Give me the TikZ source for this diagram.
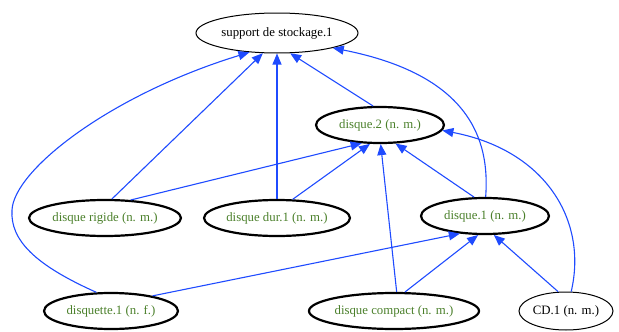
\documentclass[tikz,border=0pt]{standalone}
\usepackage{fontspec}
\setmainfont{Liberation Serif}
\usetikzlibrary{shapes.geometric,arrows.meta}
\definecolor{termgreen}{HTML}{4A7F2A}
\definecolor{linkblue}{HTML}{1F4BFF}
\tikzset{
  concept/.style={ellipse, draw, line width=1pt, inner sep=0pt, font=\fontsize{12.8}{14}\selectfont},
  term/.style={concept, line width=2.2pt, text=termgreen},
  link/.style={draw=linkblue, line width=1.1pt, -{Triangle[length=11pt,width=9pt]}, fill=none},
}
\begin{document}
\begin{tikzpicture}[x=1pt, y=-1pt]
  \useasboundingbox (0,0) rectangle (619,332);

  \node[concept, minimum width=162pt, minimum height=40pt] (support) at (277,33) {support de stockage.1};
  \node[term, minimum width=128pt, minimum height=36pt] (d2) at (380,125) {disque.2 (n. m.)};
  \node[term, minimum width=152pt, minimum height=36pt] (rigide) at (105,218) {disque rigide (n. m.)};
  \node[term, minimum width=146pt, minimum height=36pt] (dur) at (277,218) {disque dur.1 (n. m.)};
  \node[term, minimum width=128pt, minimum height=36pt] (d1) at (485,216) {disque.1 (n. m.)};
  \node[term, minimum width=134pt, minimum height=36pt] (disquette) at (111,311) {disquette.1 (n. f.)};
  \node[term, minimum width=170pt, minimum height=36pt] (compact) at (394,311) {disque compact (n. m.)};
  \node[concept, minimum width=94pt, minimum height=38pt] (cd) at (566,311) {CD.1 (n. m.)};

  % links to support de stockage.1
  \draw[link] (rigide.70) -- (support.235);
  \draw[link] (dur) -- (support.270);
  \draw[link] (d2.110) -- (support.303);
  \draw[link] (d1.88) .. controls (490,140) and (470,75) .. (support.345);
  \draw[link] (disquette.128) .. controls (35,265) and (10,240) .. (12,210)
        .. controls (14,170) and (110,95) .. (support.215);

  % links to disque.2
  \draw[link] (rigide.35) -- (d2.225);
  \draw[link] (dur.50) -- (d2.242);
  \draw[link] (compact.82) -- (d2.272);
  \draw[link] (d1.120) -- (d2.310);
  \draw[link] (cd.75) .. controls (588,220) and (545,150) .. (d2.355);

  % links to disque.1
  \draw[link] (disquette.20) -- (d1.215);
  \draw[link] (compact.60) -- (d1.250);
  \draw[link] (cd.112) -- (d1.295);
\end{tikzpicture}
\end{document}
